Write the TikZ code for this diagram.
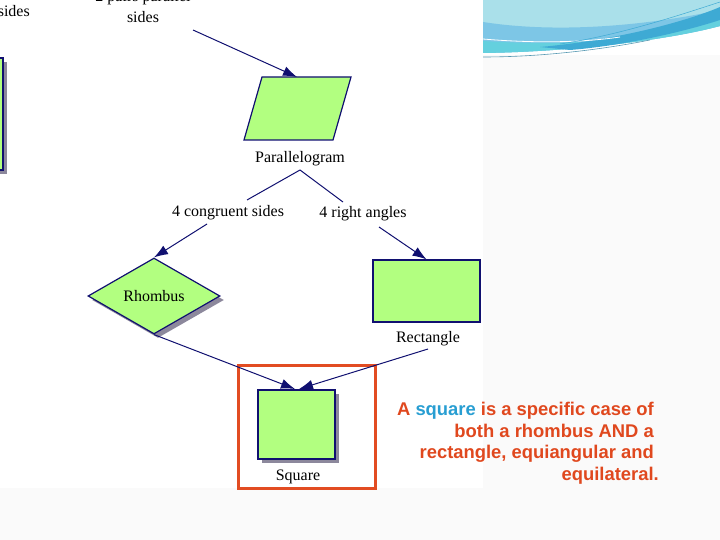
\documentclass[tikz,border=0pt]{standalone}
\usepackage{fontspec}
\setmainfont{Liberation Serif}
\newfontfamily\notefont{Liberation Sans}
\usetikzlibrary{calc,arrows.meta,shapes.geometric,shadows,positioning}
\definecolor{shapegreen}{RGB}{178,255,128}
\definecolor{edgeblue}{RGB}{16,16,112}
\definecolor{shadowgray}{RGB}{140,136,156}
\definecolor{notered}{RGB}{224,72,30}
\definecolor{noteblue}{RGB}{40,158,210}
\definecolor{framered}{RGB}{226,76,34}
\definecolor{wavelight}{RGB}{170,224,234}
\definecolor{wavemid}{RGB}{125,198,230}
\definecolor{wavedark}{RGB}{62,170,212}
\definecolor{wavecyan}{RGB}{100,208,222}
\tikzset{
  greenbox/.style={fill=shapegreen,draw=edgeblue,line width=1.2pt},
  withshadow/.style={drop shadow={shadow xshift=4pt,shadow yshift=-4pt,fill=shadowgray,opacity=1}},
  lbl/.style={font=\fontsize{16}{19}\selectfont,inner sep=0pt},
  link/.style={draw=edgeblue,line width=1pt},
  arr/.style={link,-{Latex[length=14pt,width=10pt]}}
}
\begin{document}
\begin{tikzpicture}[x=1pt,y=-1pt]
  \useasboundingbox (0,0) rectangle (720,540);
  \clip (0,0) rectangle (720,540);
  % slide background
  \fill[black!2] (483,55) rectangle (720,540);
  \fill[black!2] (0,488) rectangle (720,540);
  \fill[wavelight] (483,0) -- (720,0) -- (720,26)
        .. controls (660,42) and (560,52) .. (483,53) -- cycle;
  \fill[wavemid] (483,22) .. controls (560,34) and (650,25) .. (720,10) -- (720,26)
        .. controls (660,42) and (560,52) .. (483,53) -- cycle;
  \fill[wavecyan] (483,41) .. controls (530,44) and (580,44) .. (620,38) -- (720,20) -- (720,26)
        .. controls (660,42) and (560,52) .. (483,53) -- cycle;
  \fill[wavedark] (540,47) .. controls (620,40) and (690,20) .. (720,7) -- (720,20)
        .. controls (680,33) and (620,46) .. (570,50) -- cycle;
  \draw[white,line width=0.8pt] (483,39) .. controls (530,43) and (580,43) .. (620,37);
  \draw[wavedark!60!gray,line width=0.6pt] (483,57) .. controls (540,57) and (600,50) .. (650,40);
  \draw[wavedark,line width=0.5pt] (560,44) .. controls (620,35) and (680,15) .. (720,2);

  % cut-off parts of the slide
  \draw[greenbox,withshadow] (-60,58) rectangle (3,170);
  \node[lbl,anchor=base east] (sidesLbl) at (30,17) {sides};
  \node[lbl,align=center,anchor=south,font=\fontsize{16}{21}\selectfont] (pairsLbl) at (143,23) {2 pairs parallel\\sides};
  \coordinate (pairsEnd) at (193,30);

  % parallelogram
  \draw[greenbox] (262,77) -- (351,77) -- (333,140) -- (244,140) -- cycle;
  \coordinate (paraTop) at (297,77);
  \node[lbl] (paraLbl) at (300,159) {Parallelogram};
  \coordinate (apex) at (300,170);
  \node[lbl] (congLbl) at (228,213) {4 congruent sides};
  \node[lbl] (rightLbl) at (363,214) {4 right angles};
  \coordinate (congTop) at (247,200);
  \coordinate (rightTop) at (343,202);
  \coordinate (congEnd) at (207,224);
  \coordinate (rightEnd) at (379,227);

  % rhombus and rectangle
  \node[diamond,greenbox,withshadow,minimum width=132pt,minimum height=76pt,inner sep=0pt,lbl] (rhomb) at (154,296) {Rhombus};
  \node[greenbox,minimum width=107pt,minimum height=62pt] (rect) at (426.5,291) {};
  \node[lbl] (rectLbl) at (428,339) {Rectangle};
  \coordinate (rectEnd) at (428,349);

  % square
  \draw[framered,line width=3pt] (238,365) rectangle (375,488);
  \node[greenbox,withshadow,minimum width=77pt,minimum height=69pt] (sq) at (296.5,424.5) {};
  \node[lbl] (sqLbl) at (298,477) {Square};
  \coordinate (sqL) at (295,389);
  \coordinate (sqR) at (299,389);

  % connectors
  \draw[arr] (pairsEnd) -- (paraTop);
  \draw[link] (apex) -- (congTop);
  \draw[link] (apex) -- (rightTop);
  \draw[arr] (congEnd) -- (rhomb.north);
  \draw[arr] (rightEnd) -- (rect.north);
  \draw[arr] (rhomb.south) -- (sqL);
  \draw[arr] (rectEnd) -- (sqR);

  \node[font=\notefont\bfseries\fontsize{18.4}{21.7}\selectfont,text=notered,align=right,anchor=north east,inner sep=0pt] (note) at (659,402)
    {A \textcolor{noteblue}{square} is a specific case of\kern5pt\\ both a rhombus AND a\kern5pt\\ rectangle, equiangular and\kern5pt\\ equilateral.};
\end{tikzpicture}
\end{document}
